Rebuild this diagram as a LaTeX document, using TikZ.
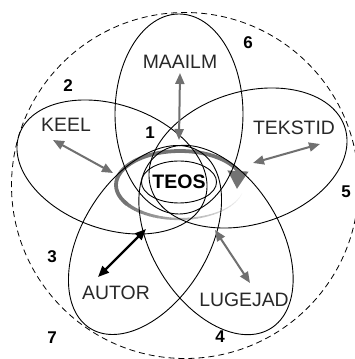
\documentclass[tikz,border=0pt]{standalone}
\usepackage{fontspec}
\setmainfont{Liberation Sans}
\usetikzlibrary{arrows.meta,shapes.geometric}
\definecolor{arrowgray}{RGB}{112,112,112}
\definecolor{labelgray}{RGB}{40,40,40}
\begin{document}
\begin{tikzpicture}[x=1pt,y=1pt,
  petal/.style={draw=black,line width=0.9pt},
  outerring/.style={draw=black,line width=0.8pt,dash pattern=on 6pt off 4pt},
  lbl/.style={text=labelgray,font=\fontsize{19.4}{22}\selectfont,inner sep=0pt},
  num/.style={font=\fontsize{17}{20}\selectfont\bfseries,inner sep=0pt},
  link/.style={draw=arrowgray,line width=2pt,{Triangle[length=11pt,width=9pt]}-{Triangle[length=11pt,width=9pt]}},
  blacklink/.style={draw=black,line width=2.4pt,{Triangle[length=11pt,width=9pt]}-{Triangle[length=11pt,width=9pt]}},
  centre/.style={draw=black,line width=0.9pt,ellipse,minimum width=58pt,minimum height=42pt,inner sep=0pt,font=\fontsize{19.5}{22}\selectfont\bfseries}
]
\useasboundingbox (0,0) rectangle (355,359);
\clip (0,0) rectangle (355,359);
\fill[white] (0,0) rectangle (355,359);

% outer dashed circle
\draw[outerring] (185,173.5) ellipse (173.5 and 173);

% gray ring (fading start, thick arrow end)
\foreach \k in {0,...,33}{
  \pgfmathsetmacro\aone{-14-4*\k}
  \pgfmathsetmacro\atwo{\aone-4.6}
  \pgfmathsetmacro\wd{0.3+3.3*\k/33}
  \pgfmathtruncatemacro\cl{4+51*\k/33}
  \draw[line width=\wd pt, black!\cl] ({180+64*cos(\aone)},{174+34*sin(\aone)}) arc[start angle=\aone, end angle=\atwo, x radius=64, y radius=34];
}
\coordinate (ringtip) at (237,170);
\draw[line width=3.8pt, black!55, -{Triangle[length=18pt,width=20pt]}] ({180+64*cos(-146)},{174+34*sin(-146)}) arc[start angle=-146, end angle=-335, x radius=64, y radius=34] -- (ringtip);

% petals
\draw[petal] (179,245) ellipse (64 and 100);
\draw[petal,rotate around={17.2:(248,201)}] (248,201) ellipse (101.6 and 66.2);
\draw[petal,rotate around={-19.3:(112,192)}] (112,192) ellipse (98.3 and 62.1);
\draw[petal,rotate around={58.3:(145,119)}] (145,119) ellipse (104 and 63);
\draw[petal,rotate around={121.7:(216,119)}] (216,119) ellipse (104 and 64);

% centre
\node[centre] (teos) at (179,177) {TEOS};

% labels
\node[lbl] (maailm) at (180,297) {MAAILM};
\node[lbl] (keel) at (66,234) {KEEL};
\node[lbl] (tekstid) at (294,231) {TEKSTID};
\node[lbl] (autor) at (116,66) {AUTOR};
\node[lbl] (lugejad) at (244,59) {LUGEJAD};

% numbers
\node[num] (n1) at (150,226) {1};
\node[num] (n2) at (68,273) {2};
\node[num] (n3) at (52,102) {3};
\node[num] (n4) at (220,22) {4};
\node[num] (n5) at (346,167) {5};
\node[num] (n6) at (248,316) {6};
\node[num] (n7) at (52,21) {7};

% arrows
\coordinate (mA) at (180,286); \coordinate (mB) at (179,219);
\coordinate (kA) at (53,219); \coordinate (kB) at (113,186);
\coordinate (tA) at (320,215); \coordinate (tB) at (253,196);
\coordinate (lA) at (215,129); \coordinate (lB) at (250,76);
\coordinate (aA) at (146,130); \coordinate (aB) at (98,82);
\draw[link] (mA) -- (mB);
\draw[link] (kA) -- (kB);
\draw[link] (tA) -- (tB);
\draw[link] (lA) -- (lB);
\draw[blacklink] (aA) -- (aB);
\end{tikzpicture}
\end{document}
